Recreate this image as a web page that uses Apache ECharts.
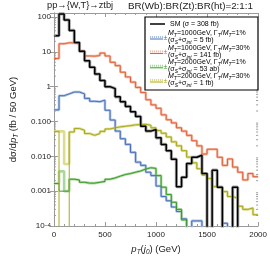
<!DOCTYPE html>
<html><head><meta charset="utf-8">
<script src="https://cdn.jsdelivr.net/npm/echarts@6/dist/echarts.min.js"></script>
<style>html,body{margin:0;padding:0;background:#fff}#c{width:270px;height:261px}</style>
</head><body><div id="c"></div>
<script>
// ---- data (50 GeV bins from 0 to 2000 GeV); 0 = empty bin ----
const binWidth = 50;
const xTickLabels = ['0','500','1000','1500','2000'];
const yTickLabels = {'-4':'10{sup|−4}','-3':'0.001','-2':'0.010','-1':'0.100','0':'1','1':'10','2':'100'};
const smValues = [29,122,82,41,18.5,10.3,5.5,3.6,2.3,1.5,
  1.0,0.88,0.51,0.37,0.27,0.19,0.14,0.073,0.053,0.059,
  0.034,0.022,0.0145,0.0083,0.00134,0.0025,0.0062,0.0094,0.0107,0.0032,
  0,0.004,0.0013,0,0,0.0013,0,0,0,0];
const t1000w1Values = [0.215,0.55,0.62,0.70,0.70,0.62,0.46,0.38,0.37,0.41,
  0.21,0.11,0.053,0.032,0.022,0.013,0.0068,0.0055,0.0035,0.0028,
  0.0014,0.0007,0.00053,0.00035,0.00026,0.00016,0,0.00014,0.00014,0,
  0,0,0,0.00012,0,0,0,0,0,0];
const t1000w30Values = [6.4,17,18.2,18,17,10.5,7.6,7.5,7.8,9.2,
  7.6,5.0,4.0,2.6,1.9,1.35,0.95,0.68,0.42,0.30,
  0.24,0.155,0.112,0.091,0.066,0.053,0.04,0.028,0.020,0.0116,
  0.016,0.016,0.0094,0.0055,0.0084,0.0049,0.0035,0.0021,0.0032,0.0026];
const t2000w1Values = [0.00166,0.001,0.001,0.0022,0.0021,0.0018,0.0017,0.0017,0.0018,0.0019,
  0.0022,0.0024,0.0027,0.003,0.0032,0.0035,0.0038,0.0043,0.0047,0.0045,
  0.0028,0.0013,0.0008,0.00048,0.0003,0.00015,0,0,0,0,
  0,0,0,0,0,0,0,0,0,0];
const t2000w1Band = [0.00166,0.0037,0.001,0.0022,0.0021,0.0018,0.0017,0.0017,0.0018,0.0019,
  0.0022,0.0024,0.0027,0.003,0.0032,0.0035,0.0038,0.0043,0.0047,0.0045,
  0.0028,0.0013,0.0008,0.00048,0.0003,0.00015,0,0,0,0,
  0,0,0,0,0,0,0,0,0,0];
const t2000w30Values = [0.052,0,0,0.05,0.063,0.056,0.045,0.040,0.045,0.052,
  0.061,0.066,0.070,0.073,0.076,0.080,0.082,0.083,0.078,0.066,
  0.055,0.046,0.036,0.026,0.02,0.0145,0.0095,0.0065,0.0044,0.0029,
  0.0023,0.00135,0.0012,0.00097,0.0007,0.00063,0.00037,0.0003,0.00033,0.00021];
const t2000w30Band = [0.052,0.052,0.006,0.05,0.063,0.056,0.045,0.040,0.045,0.052,
  0.061,0.066,0.070,0.073,0.076,0.080,0.082,0.083,0.078,0.066,
  0.055,0.046,0.036,0.026,0.02,0.0145,0.0095,0.0065,0.0044,0.0029,
  0.0023,0.00135,0.0012,0.00097,0.0007,0.00063,0.00037,0.0003,0.00033,0.00021];

// ---- build ----
const EMPTY = 1e-9;
function steps(vals){
  const d = vals.map((v,i)=>[i*binWidth, v>0?v:EMPTY]);
  d.push([vals.length*binWidth, vals[vals.length-1]>0?vals[vals.length-1]:EMPTY]);
  return d;
}
const C = {
  sm:'#000000', smL:'#a8a8a8',
  b:'#4a70b5', bL:'#aec3e4',
  o:'#e0613a', oL:'#f3bba6',
  g:'#3a9a2c', gL:'#a9d79d',
  y:'#a9a81b', yL:'#dcdc90'
};
function line(data, color, w, z){
  return {type:'line', data:steps(data), step:'end', showSymbol:false, symbol:'none',
    lineStyle:{color:color, width:w}, clip:true, z:z, silent:true, animation:false};
}
const minorVals = [];
for (let d=-4; d<=2; d++) for (let m=2; m<=9; m++){ const v=m*Math.pow(10,d); if (v<130) minorVals.push([0,v]); }

const font = 'Liberation Sans, Arial, sans-serif';
const rich = {
  n:{fontSize:9.5, fontFamily:font, color:'#222', verticalAlign:'bottom', padding:[0,0,2,0]},
  i:{fontSize:9.5, fontFamily:font, fontStyle:'italic', color:'#222', verticalAlign:'bottom', padding:[0,0,2,0]},
  s:{fontSize:6.5, fontFamily:font, fontStyle:'italic', color:'#222', verticalAlign:'bottom'}
};
function legRich(col){
  return {
    n:{fontSize:7, fontFamily:font, color:col, verticalAlign:'bottom', padding:[0,0,1.5,0]},
    i:{fontSize:7, fontFamily:font, fontStyle:'italic', color:col, verticalAlign:'bottom', padding:[0,0,1.5,0]},
    s:{fontSize:5, fontFamily:font, fontStyle:'italic', color:col, verticalAlign:'bottom'}
  };
}
function legEntry(y, col, colL, mass, width, sigma){
  return [
    {type:'line', shape:{x1:150,y1:y-1,x2:163,y2:y-1}, style:{stroke:colL, lineWidth:2, lineDash:[1.2,0.8]}, z:101},
    {type:'line', shape:{x1:150,y1:y+1,x2:163,y2:y+1}, style:{stroke:col, lineWidth:1}, z:101},
    {type:'text', x:163.5, y:y, style:{text:'±', fontSize:7, fontFamily:font, fill:col, textVerticalAlign:'middle'}, z:101},
    {type:'text', x:168, y:y-4, style:{text:'{i|M}{s|T}{n|='+mass+'GeV, Γ}{s|T}{n|/}{i|M}{s|T}{n|='+width+'}', rich:legRich(col), textVerticalAlign:'middle'}, z:101},
    {type:'text', x:168, y:y+3, style:{text:'{n|(σ}{s|S}{n|+σ}{s|int}{n| = '+sigma+')}', rich:legRich(col), textVerticalAlign:'middle'}, z:101}
  ];
}

const axisCol = '#9a9a9a';
const chart = echarts.init(document.getElementById('c'), null, {renderer:'canvas'});
chart.setOption({
  animation:false,
  grid:{left:40, right:10, top:13, bottom:31},
  xAxis:[{type:'value', min:0, max:2000, interval:500, position:'bottom',
    axisLine:{lineStyle:{color:axisCol, width:1}},
    axisTick:{inside:true, length:4, lineStyle:{color:axisCol}},
    minorTick:{show:true, splitNumber:5, length:2, lineStyle:{color:axisCol}},
    splitLine:{show:false},
    axisLabel:{fontSize:8, fontFamily:font, color:'#222', margin:5,
      formatter:(v)=>xTickLabels[Math.round(v/500)]},
    name:'{i|p}{s|T}{n|(}{i|j}{s|0}{n|) (GeV)}', nameLocation:'middle', nameGap:18,
    nameTextStyle:{rich:rich}},
   {type:'value', min:0, max:2000, interval:500, position:'top',
    axisLine:{lineStyle:{color:axisCol, width:1}},
    axisTick:{inside:true, length:4, lineStyle:{color:axisCol}},
    minorTick:{show:true, splitNumber:5, length:2, lineStyle:{color:axisCol}},
    splitLine:{show:false}, axisLabel:{show:false}}],
  yAxis:[{type:'log', logBase:10, min:0.0001, max:130, position:'left',
    axisLine:{show:true, lineStyle:{color:axisCol, width:1}},
    axisTick:{show:true, inside:true, length:4, lineStyle:{color:axisCol}},
    splitLine:{show:false},
    axisLabel:{fontSize:8, fontFamily:font, color:'#222', margin:3,
      formatter:(v)=>yTickLabels[String(Math.round(Math.log10(v)))] || '',
      rich:{sup:{fontSize:5.5, fontFamily:font, color:'#222', verticalAlign:'top', lineHeight:6}}},
    name:'{n|d}{n|σ/d}{i|p}{s|T}{n| (fb / 50 GeV)}', nameLocation:'middle', nameGap:27, nameRotate:90,
    nameTextStyle:{rich:rich}},
   {type:'log', logBase:10, min:0.0001, max:130, position:'right',
    axisLine:{show:true, lineStyle:{color:axisCol, width:1}},
    axisTick:{show:true, inside:true, length:4, lineStyle:{color:axisCol}},
    splitLine:{show:false}, axisLabel:{show:false}}],
  series:[
    line(t1000w30Values, C.oL, 2.6, 1),
    line(t1000w1Values, C.bL, 2.6, 1),
    line(t2000w1Band, C.gL, 2.6, 1),
    line(t2000w30Band, C.yL, 2.6, 1),
    line(smValues, C.smL, 3.2, 1),
    line(t1000w30Values, C.o, 1, 2),
    line(t1000w1Values, C.b, 1, 2),
    line(t2000w1Values, C.g, 1, 2),
    line(t2000w30Values, C.y, 1, 2),
    line(smValues, C.sm, 1.5, 3),
    {type:'custom', data:minorVals, silent:true, z:5, clip:false,
     renderItem:function(params, api){
       const cs = params.coordSys;
       const y = api.coord([0, api.value(1)])[1];
       const st = {stroke:axisCol, lineWidth:1};
       return {type:'group', children:[
         {type:'line', shape:{x1:cs.x, y1:y, x2:cs.x+2, y2:y}, style:st},
         {type:'line', shape:{x1:cs.x+cs.width-2, y1:y, x2:cs.x+cs.width, y2:y}, style:st}
       ]};
     }}
  ],
  graphic:[
    {type:'text', left:47, top:1, style:{text:'pp→{W,T}→ztbj', fontSize:9.3, fontFamily:font, fill:'#222'}},
    {type:'text', left:128, top:1, style:{text:'BR(Wb):BR(Zt):BR(ht)=2:1:1', fontSize:9.8, fontFamily:font, fill:'#222'}},
    {type:'rect', shape:{x:145, y:17, width:113, height:73}, style:{fill:'#fff', stroke:'#000', lineWidth:1.2}, z:100},
    {type:'line', shape:{x1:150,y1:24,x2:165,y2:24}, style:{stroke:'#000', lineWidth:1.5}, z:101},
    {type:'text', x:170, y:24, style:{text:'SM (σ = 308 fb)', fontSize:7, fontFamily:font, fill:'#000', textVerticalAlign:'middle'}, z:101}
  ].concat(
    legEntry(38, C.b, C.bL, '1000', '1%', '5 fb'),
    legEntry(52.5, C.o, C.oL, '1000', '30%', '141 fb'),
    legEntry(66.8, C.g, C.gL, '2000', '1%', '53 ab'),
    legEntry(81, C.y, C.yL, '2000', '30%', '1 fb')
  )
});
</script></body></html>
